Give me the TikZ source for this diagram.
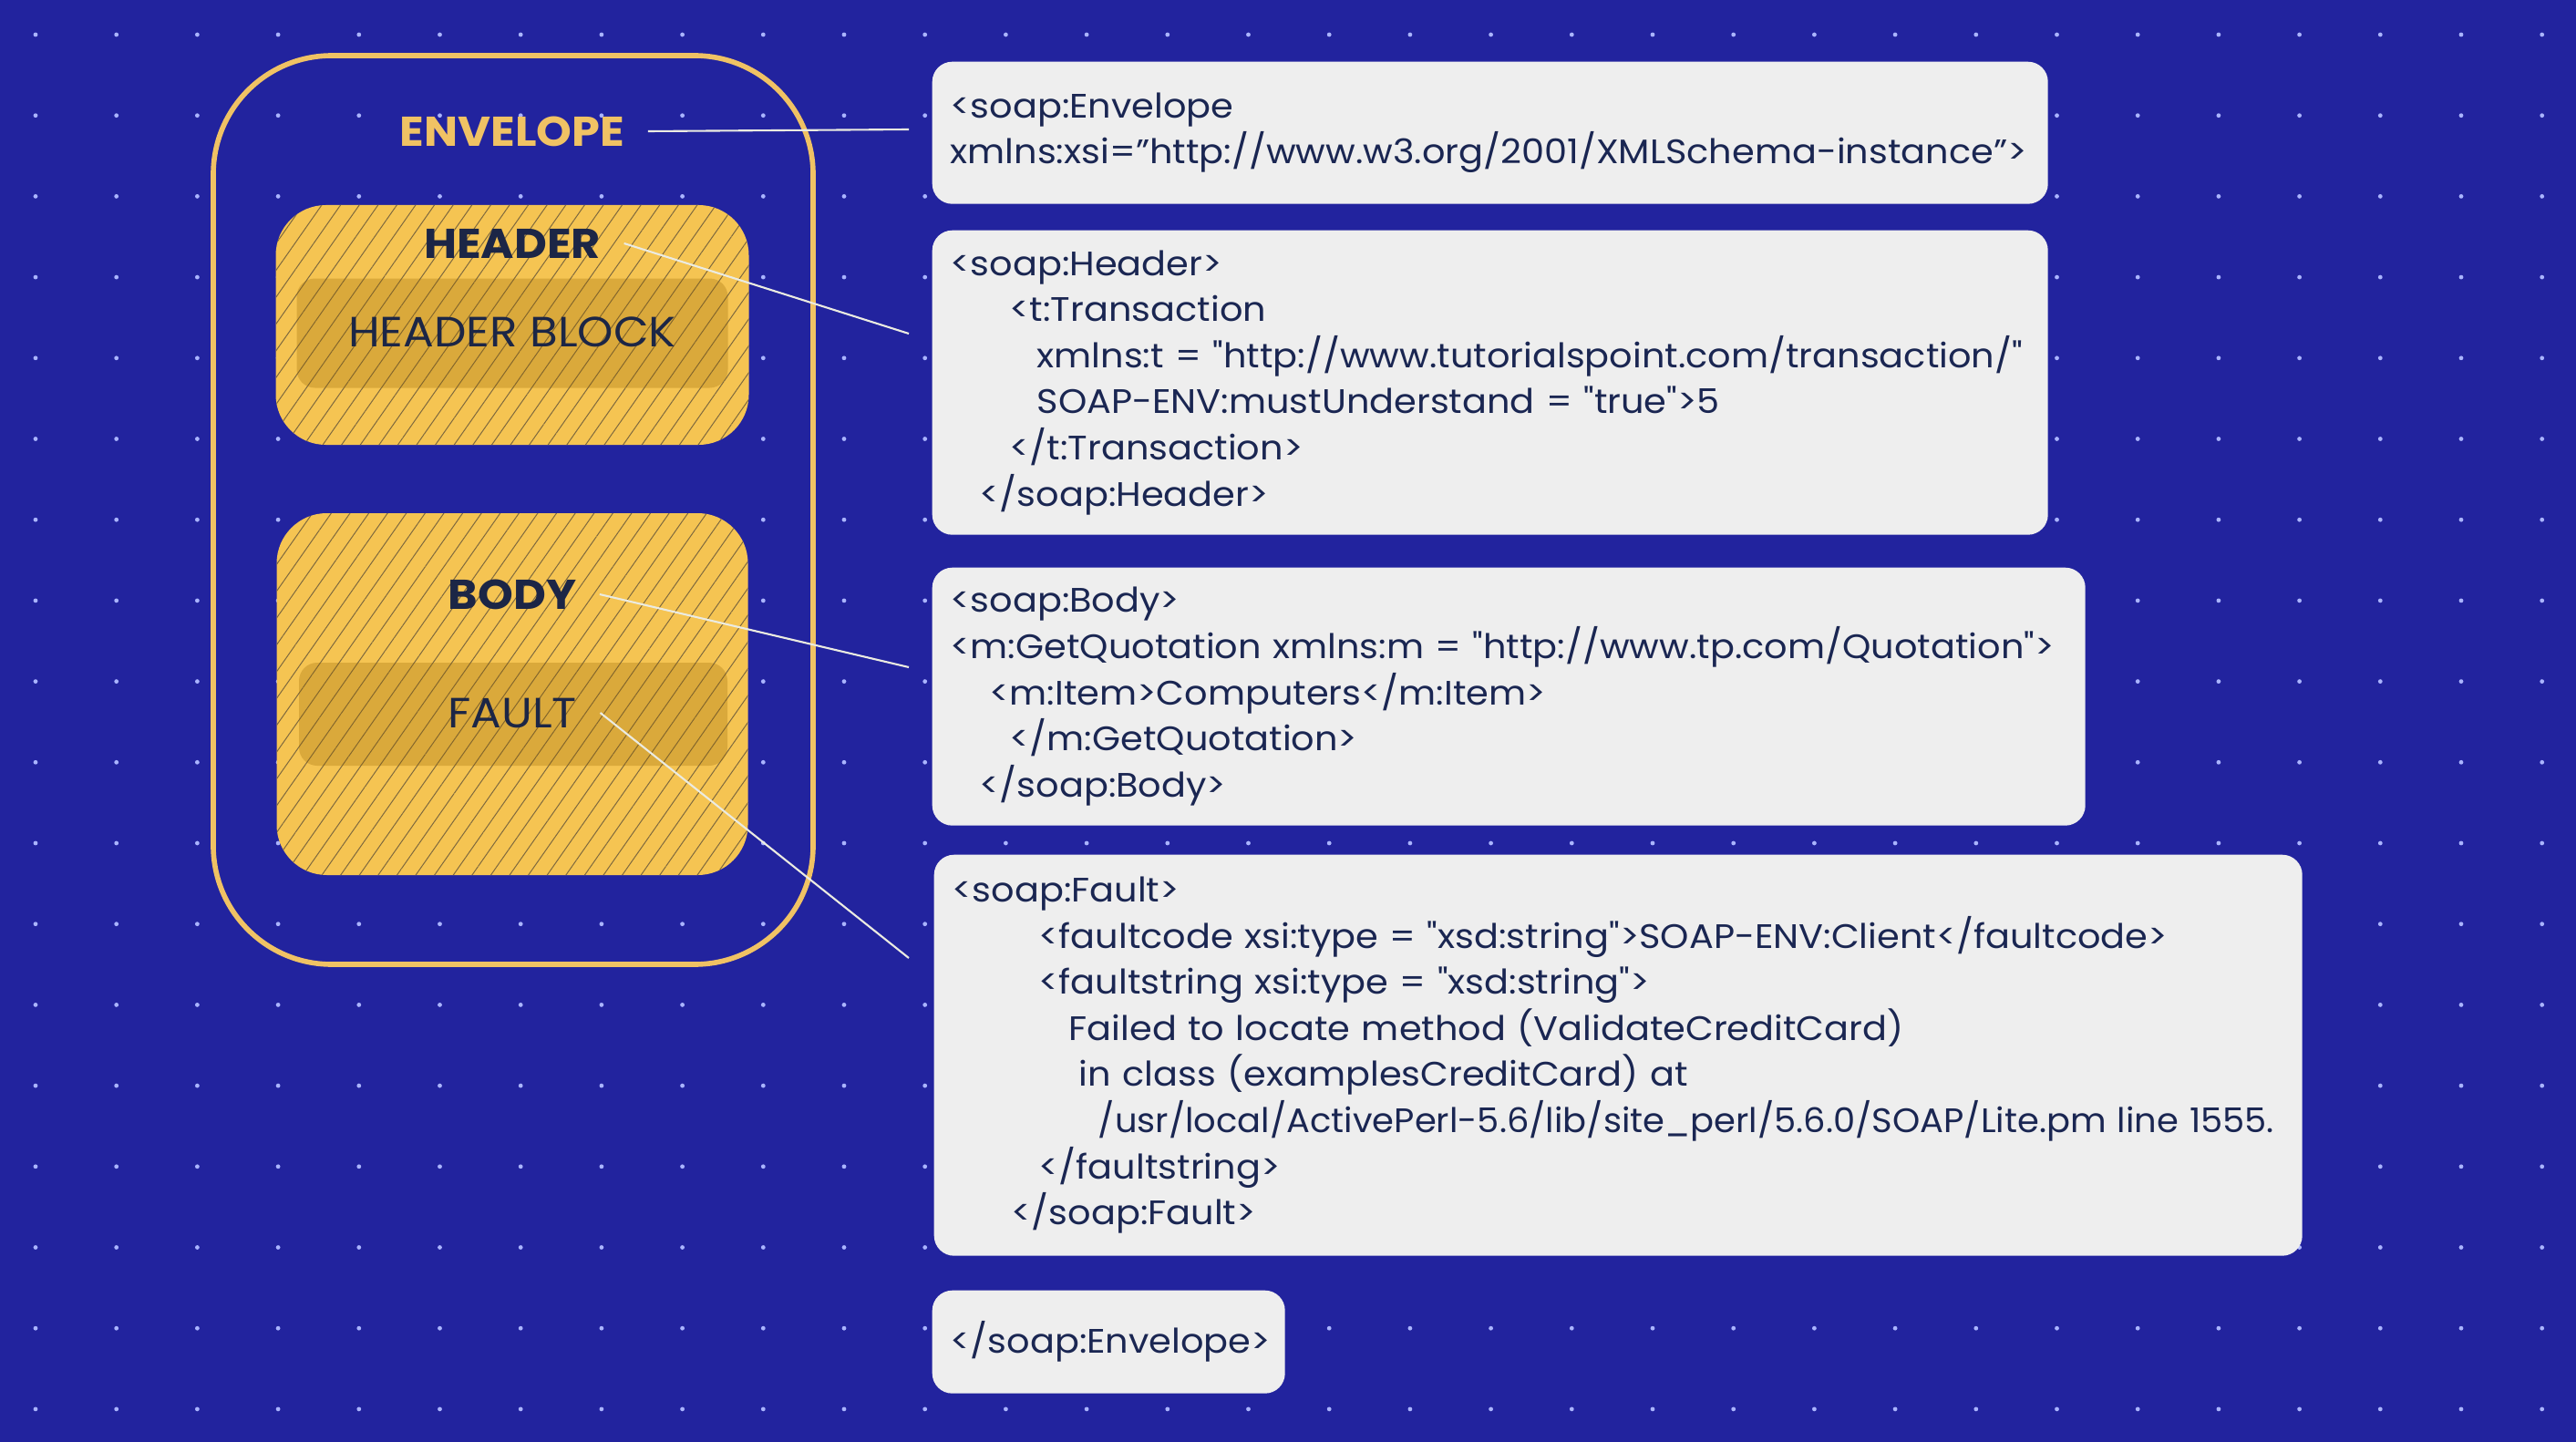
\documentclass[tikz,border=0pt]{standalone}
\usepackage{fontspec}
\setmainfont{Poppins}
\newfontfamily\codefont{Poppins}[FakeStretch=1.07,Ligatures=TeXOff]
\newfontfamily\lblfont{Poppins}[FakeStretch=1.08]
\usetikzlibrary{patterns.meta}
\definecolor{bgblue}{RGB}{34,35,158}
\definecolor{dotc}{RGB}{170,180,255}
\definecolor{envc}{RGB}{240,194,100}
\definecolor{ylw}{RGB}{245,196,82}
\definecolor{hatchc}{RGB}{125,104,62}
\definecolor{shadec}{RGB}{150,100,0}
\definecolor{navy}{RGB}{28,38,70}
\definecolor{codebg}{RGB}{238,238,238}
\definecolor{codetx}{RGB}{26,38,82}
\definecolor{linkc}{RGB}{235,235,225}

\begin{document}
\begin{tikzpicture}[
  lbl/.style={font=\lblfont\fontsize{13}{15}\selectfont\bfseries,text=navy,inner xsep=0.25cm},
  sub/.style={font=\lblfont\fontsize{13.2}{15}\selectfont,text=navy,inner xsep=0.25cm},
  part/.style={rounded corners=0.55cm,preaction={fill=ylw},
               pattern={Lines[angle=55,distance=4.8pt,line width=0.28pt]},pattern color=hatchc},
  blk/.style={rounded corners=0.2cm,fill=shadec,fill opacity=0.28},
  code/.style={fill=codebg,rounded corners=0.22cm,anchor=north west,align=left,
               inner xsep=0.2cm,text=codetx,font=\codefont\fontsize{10.6}{14.4}\selectfont},
  link/.style={draw=linkc,line width=0.6pt}
]
% --- background + dot grid ---
\fill[bgblue] (0,0) rectangle (28.26,-15.82);
\foreach \i in {0,...,31}
  \foreach \j in {0,...,17}
    \fill[dotc] ({0.39+0.887*\i},{-0.38-0.887*\j}) circle (0.024);
% --- envelope frame ---
\node[draw=envc,line width=1.6pt,rounded corners=1.3cm,
      minimum width=6.58cm,minimum height=9.97cm](env) at(5.63,-5.595){};
\node[lbl,text=envc](lEnv) at(5.62,-1.44){ENVELOPE};
% --- header part ---
\node[part,minimum width=5.19cm,minimum height=2.63cm](hdr) at(5.62,-3.565){};
\node[blk,minimum width=4.73cm,minimum height=1.20cm](hdrBlk) at(5.62,-3.655){};
\node[lbl](lHdr) at(5.62,-2.67){HEADER};
\node[sub](lHdrBlk) at(5.62,-3.64){HEADER BLOCK};
% --- body part ---
\node[part,minimum width=5.17cm,minimum height=3.97cm](body) at(5.62,-7.615){};
\node[blk,minimum width=4.70cm,minimum height=1.13cm](fltBlk) at(5.63,-7.835){};
\node[lbl](lBody) at(5.62,-6.52){BODY};
\node[sub](lFlt) at(5.62,-7.82){FAULT};
% --- code boxes ---
\node[code,text width=11.84cm,minimum height=1.56cm](cEnv) at(10.22,-0.67){%
<soap:Envelope\\
xmlns:xsi=”http://www.w3.org/2001/XMLSchema-instance”>};
\node[code,text width=11.84cm,minimum height=3.34cm](cHdr) at(10.22,-2.52){%
<soap:Header>\\
\hspace*{0.65cm}<t:Transaction\\
\hspace*{0.95cm}xmlns:t = "http://www.tutorialspoint.com/transaction/"\\
\hspace*{0.95cm}SOAP-ENV:mustUnderstand = "true">5\\
\hspace*{0.65cm}</t:Transaction>\\
\hspace*{0.32cm}</soap:Header>};
\node[code,text width=12.25cm,minimum height=2.83cm](cBody) at(10.22,-6.22){%
<soap:Body>\\
<m:GetQuotation xmlns:m = "http://www.tp.com/Quotation">\\
\hspace*{0.43cm}<m:Item>Computers</m:Item>\\
\hspace*{0.65cm}</m:GetQuotation>\\
\hspace*{0.32cm}</soap:Body>};
\node[code,text width=14.61cm,minimum height=4.40cm](cFault) at(10.24,-9.37){%
<soap:Fault>\\
\hspace*{0.95cm}<faultcode xsi:type = "xsd:string">SOAP-ENV:Client</faultcode>\\
\hspace*{0.95cm}<faultstring xsi:type = "xsd:string">\\
\hspace*{1.28cm}Failed to locate method (ValidateCreditCard)\\
\hspace*{1.39cm}in class (examplesCreditCard) at\\
\hspace*{1.60cm}\makebox[0pt][l]{\scalebox{0.965}[1]{/usr/local/ActivePerl-5.6/lib/site\_perl/5.6.0/SOAP/Lite.pm line 1555.}}\\
\hspace*{0.95cm}</faultstring>\\
\hspace*{0.65cm}</soap:Fault>};
\node[code,text width=3.47cm,minimum height=1.13cm](cEnd) at(10.22,-14.15){</soap:Envelope>};
% --- connectors ---
\coordinate (tEnv)   at(9.97,-1.42);
\coordinate (tHdr)   at(9.97,-3.66);
\coordinate (tBody)  at(9.97,-7.32);
\coordinate (tFault) at(9.97,-10.51);
\draw[link](lEnv.east)--(tEnv);
\draw[link](lHdr.east)--(tHdr);
\draw[link](lBody.east)--(tBody);
\draw[link](lFlt.east)--(tFault);
\end{tikzpicture}
\end{document}
